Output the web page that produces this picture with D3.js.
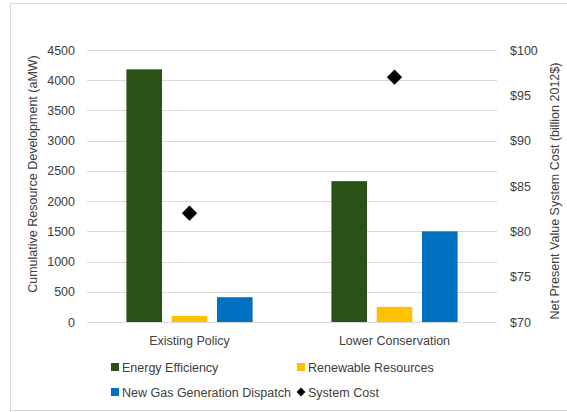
<!DOCTYPE html>
<html><head><meta charset="utf-8">
<script src="https://cdn.jsdelivr.net/npm/d3@7"></script>
<style>body{margin:0;background:#fff;} text{font-family:"Liberation Sans",Arial,sans-serif;fill:#404040;}</style>
</head><body>
<svg id="c" width="567" height="412"></svg>
<script>
const categories = ["Existing Policy", "Lower Conservation"];
const series = ["Energy Efficiency", "Renewable Resources", "New Gas Generation Dispatch"];
const energyEfficiency = [4180, 2330];
const renewableResources = [100, 250];
const newGasGeneration = [410, 1500];
const systemCost = [82, 97];
const leftTicks = [0, 500, 1000, 1500, 2000, 2500, 3000, 3500, 4000, 4500];
const rightTicks = [70, 75, 80, 85, 90, 95, 100];
const colors = ["#2b5119", "#ffc000", "#0070c0"];

const seriesValues = [energyEfficiency, renewableResources, newGasGeneration];
const svg = d3.select("#c");
const L = 87, R = 497, T = 50, B = 322;

// chart border
svg.append("path").attr("d", `M10.5,${412} L10.5,3.5 L567,3.5 M10.5,410.5 L567,410.5`)
  .attr("fill", "none").attr("stroke", "#d9d9d9").attr("stroke-width", 1);

const x0 = d3.scaleBand().domain(categories).range([L, R]).padding(0);
const groupW = 126.2;
const x1 = d3.scaleBand().domain(series).range([0, groupW]).paddingInner(0.214).paddingOuter(0);
const y = d3.scaleLinear().domain([0, 4500]).range([B, T]);
const y2 = d3.scaleLinear().domain([70, 100]).range([B, T]);

// gridlines
svg.append("g").selectAll("line").data(leftTicks).join("line")
  .attr("x1", L).attr("x2", R)
  .attr("y1", d => Math.round(y(d)) + 0.5).attr("y2", d => Math.round(y(d)) + 0.5)
  .attr("stroke", "#d9d9d9").attr("stroke-width", 1);

// left axis
const la = svg.append("g").attr("transform", `translate(${L},0)`)
  .call(d3.axisLeft(y).tickValues(leftTicks).tickSize(0).tickPadding(12).tickFormat(d3.format("d")));
la.select(".domain").remove();
la.selectAll("text").style("font-size", "12.5px").attr("fill", "#404040").style("font-family", "Liberation Sans, Arial, sans-serif");

// right axis
const ra = svg.append("g").attr("transform", `translate(${R},0)`)
  .call(d3.axisRight(y2).tickValues(rightTicks).tickSize(0).tickPadding(13).tickFormat(d => "$" + d));
ra.select(".domain").remove();
ra.selectAll("text").style("font-size", "12.5px").attr("fill", "#404040").style("font-family", "Liberation Sans, Arial, sans-serif");

// bars
const groups = svg.append("g").selectAll("g").data(categories).join("g")
  .attr("transform", c => `translate(${x0(c) + (x0.bandwidth() - groupW) / 2},0)`);
groups.selectAll("rect").data((c, i) => series.map((s, j) => ({s, j, v: seriesValues[j][i]}))).join("rect")
  .attr("x", d => x1(d.s)).attr("width", x1.bandwidth())
  .attr("y", d => y(d.v)).attr("height", d => B - y(d.v))
  .attr("fill", d => colors[d.j]);

// system cost diamonds
const diamond = d3.symbol().type(d3.symbolDiamond2).size(150);
svg.append("g").selectAll("path").data(categories).join("path")
  .attr("d", diamond)
  .attr("transform", (c, i) => `translate(${x0(c) + x0.bandwidth() / 2},${y2(systemCost[i])})`)
  .attr("fill", "#000");

// category labels
svg.append("g").selectAll("text").data(categories).join("text")
  .attr("x", c => x0(c) + x0.bandwidth() / 2).attr("y", 345)
  .attr("text-anchor", "middle").style("font-size", "12.5px").text(c => c);

// axis titles
svg.append("text").attr("transform", "translate(37,174) rotate(-90)")
  .attr("text-anchor", "middle").style("font-size", "12.5px").text("Cumulative Resource Development (aMW)");
svg.append("text").attr("transform", "translate(559,191) rotate(-90)")
  .attr("text-anchor", "middle").style("font-size", "12.5px").text("Net Present Value System Cost (billion 2012$)");

// legend
const legend = [
  {label: "Energy Efficiency", type: "rect", color: colors[0], x: 111, y: 367},
  {label: "Renewable Resources", type: "rect", color: colors[1], x: 297, y: 367},
  {label: "New Gas Generation Dispatch", type: "rect", color: colors[2], x: 111, y: 392},
  {label: "System Cost", type: "diamond", color: "#000", x: 297, y: 392}
];
const lg = svg.append("g").selectAll("g").data(legend).join("g")
  .attr("transform", d => `translate(${d.x},${d.y})`);
lg.filter(d => d.type === "rect").append("rect").attr("x", 0).attr("y", -4).attr("width", 8).attr("height", 8).attr("fill", d => d.color);
lg.filter(d => d.type === "diamond").append("path").attr("d", d3.symbol().type(d3.symbolDiamond2).size(50)).attr("transform", "translate(4,0)").attr("fill", "#000");
lg.append("text").attr("x", 11).attr("y", 4.5).style("font-size", "12.5px").text(d => d.label);
</script>
</body></html>
